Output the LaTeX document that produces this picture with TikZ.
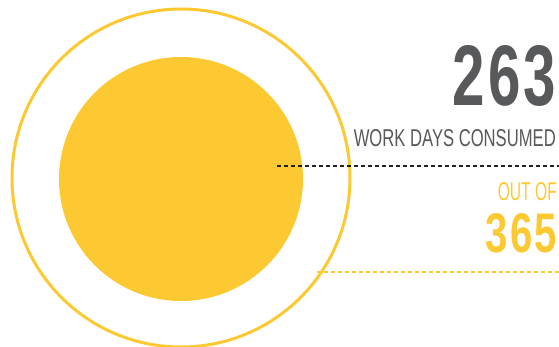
\documentclass[tikz,border=0pt]{standalone}
\usepackage{fontspec}
\usepackage{graphicx}
\setmainfont{Liberation Sans}
\usetikzlibrary{positioning}
\definecolor{sunyellow}{HTML}{FDC932}
\definecolor{daygray}{HTML}{58595B}
\definecolor{dashblack}{HTML}{231F20}
% squeeze a text into a given width and cap height
\newcommand{\fitbox}[3]{\resizebox{#1}{#2}{#3}}
\newcommand{\gap}{\kern0.05em}

\begin{document}
\begin{tikzpicture}[x=1pt,y=-1pt,
  figure/.style={anchor=north east,inner sep=0pt},
  rule/.style={line width=2pt,dash pattern=on 4pt off 3pt}]
\useasboundingbox (0,0) rectangle (559,347);
\node[circle,draw=sunyellow,line width=3pt,minimum size=338pt,inner sep=0pt] (ring) at (181,178) {};
\node[circle,fill=sunyellow,minimum size=244pt,inner sep=0pt] (sun) at (181,179) {};
% consumed
\node[figure,text=daygray] (used) at (556,45) {\fitbox{103pt}{60pt}{\bfseries 2\gap 6\gap 3}};
\node[figure,text=daygray,below=23pt of used.south east,anchor=north east] (usedlabel) {\fitbox{202pt}{17pt}{WORK DAYS CONSUMED}};
\coordinate (blackstart) at (277,166);
\coordinate (blackend) at (559,166);
\draw[rule,dashblack] (blackstart) -- (blackend);
% total
\node[figure,text=sunyellow] (outof) at (557,182) {\fitbox{59pt}{18pt}{OUT OF}};
\node[figure,text=sunyellow,below=13pt of outof.south east,anchor=north east] (total) {\fitbox{71pt}{39pt}{\bfseries 3\gap 6\gap 5}};
\coordinate (yellowstart) at (317,272);
\coordinate (yellowend) at (559,272);
\draw[rule,line width=1.5pt,sunyellow] (yellowstart) -- (yellowend);
\end{tikzpicture}
\end{document}
